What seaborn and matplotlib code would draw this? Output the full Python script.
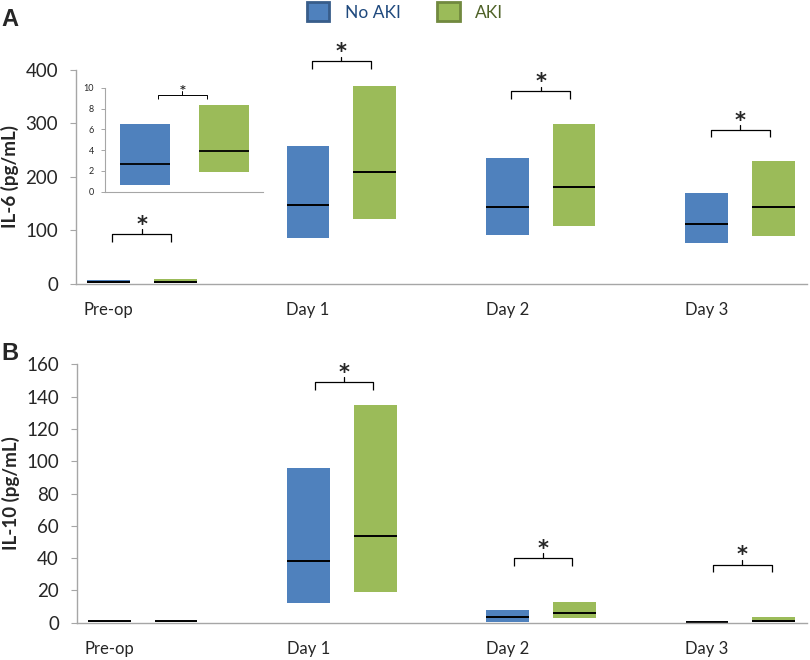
import matplotlib
matplotlib.use("Agg")
import matplotlib.pyplot as plt
from matplotlib.patches import Patch
import numpy as np
import seaborn as sns

# ---------------------------------------------------------------------------
# Data: interquartile boxes with medians
# ---------------------------------------------------------------------------
days = ["Pre-op", "Day 1", "Day 2", "Day 3"]
groups = ["No AKI", "AKI"]

# IL-6 (pg/mL)
il6_no_aki_q1 = [0.6, 86, 92, 76]
il6_no_aki_med = [2.7, 147, 144, 112]
il6_no_aki_q3 = [6.5, 258, 235, 170]
il6_aki_q1 = [1.9, 122, 108, 89]
il6_aki_med = [3.9, 210, 181, 144]
il6_aki_q3 = [8.3, 370, 299, 230]
il6_sig_level = [93, 416, 360, 288]

# IL-10 (pg/mL)
il10_no_aki_q1 = [0.4, 12, 0.6, 0.3]
il10_no_aki_med = [0.8, 38, 3.7, 0.7]
il10_no_aki_q3 = [1.2, 96, 7.9, 1.0]
il10_aki_q1 = [0.4, 19, 2.7, 0.6]
il10_aki_med = [0.8, 54, 5.8, 0.8]
il10_aki_q3 = [1.2, 135, 12.8, 3.7]
il10_sig_level = [None, 149, 40, 36]

# inset: pre-op IL-6 zoomed
inset_sig_level = 9.3

colors = ["#4f81bd", "#9bbb59"]
edge_colors = ["#385d8a", "#71893f"]
text_colors = ["#1f497d", "#4f6228"]

sns.set_style("white")
plt.rcParams["font.family"] = ["Lato", "DejaVu Sans"]

BAR_W = 0.215
OFFSET = 0.167
SPINE = "#a6a6a6"


def style_axis(ax, ymax, ystep, ylabel):
    x = np.arange(len(days))
    ax.set_xlim(-0.33, 3.335)
    ax.set_ylim(0, ymax)
    ax.set_yticks(np.arange(0, ymax + 1, ystep))
    ax.set_xticks(x - OFFSET)
    ax.set_xticklabels(days)
    ax.tick_params(axis="x", length=0, pad=13, labelsize=12)
    ax.tick_params(axis="y", length=4, width=0.8, color=SPINE, pad=9,
                   labelsize=13.5, left=True)
    for side in ["top", "right"]:
        ax.spines[side].set_visible(False)
    for side in ["left", "bottom"]:
        ax.spines[side].set_color(SPINE)
        ax.spines[side].set_linewidth(1.0)
    ax.set_ylabel(ylabel, fontsize=13.5, fontweight="bold")
    ax.yaxis.set_label_coords(-0.078, 0.5)


def draw_boxes(ax, x, q1s, meds, q3s, color, lw=1.4, width=BAR_W):
    q1s = np.array(q1s, dtype=float)
    q3s = np.array(q3s, dtype=float)
    ax.bar(x, q3s - q1s, bottom=q1s, width=width, color=color, linewidth=0)
    ax.hlines(meds, x - width / 2, x + width / 2, color="black", lw=lw)


def sig_bracket(ax, xc, half, top, drop, rise, fs=15, lw=0.9, star_off=-4):
    ax.plot([xc - half, xc - half, xc + half, xc + half],
            [top - drop, top, top, top - drop], color="black", lw=lw,
            solid_capstyle="butt", clip_on=False)
    ax.plot([xc, xc], [top, top + rise], color="black", lw=lw, clip_on=False)
    ax.annotate("*", (xc, top + rise), xytext=(0, star_off),
                textcoords="offset points", ha="center", va="bottom",
                fontsize=fs, fontweight="bold", family="DejaVu Sans",
                annotation_clip=False)


fig = plt.figure(figsize=(8.1, 6.6), dpi=100)
ax_a = fig.add_axes([0.0938, 0.570, 0.9025, 0.324])
ax_b = fig.add_axes([0.0950, 0.0565, 0.9013, 0.3915])

x = np.arange(len(days))

# Panel A: IL-6
draw_boxes(ax_a, x - OFFSET, il6_no_aki_q1, il6_no_aki_med, il6_no_aki_q3, colors[0])
draw_boxes(ax_a, x + OFFSET, il6_aki_q1, il6_aki_med, il6_aki_q3, colors[1])
style_axis(ax_a, 400, 100, "IL-6 (pg/mL)")
for xi, lev in zip(x, il6_sig_level):
    if lev is not None:
        sig_bracket(ax_a, xi, 0.147, lev, 14, 9)

# Panel B: IL-10
draw_boxes(ax_b, x - OFFSET, il10_no_aki_q1, il10_no_aki_med, il10_no_aki_q3, colors[0])
draw_boxes(ax_b, x + OFFSET, il10_aki_q1, il10_aki_med, il10_aki_q3, colors[1])
style_axis(ax_b, 160, 20, "IL-10 (pg/mL)")
for xi, lev in zip(x, il10_sig_level):
    if lev is not None:
        sig_bracket(ax_b, xi + 0.01, 0.147, lev, 4.6, 3.0)

# Inset with pre-op IL-6
ax_in = fig.add_axes([0.1296, 0.7096, 0.1951, 0.1574])
xi = np.arange(2)
draw_boxes(ax_in, xi[:1], il6_no_aki_q1[:1], il6_no_aki_med[:1], il6_no_aki_q3[:1],
           colors[0], lw=1.3, width=0.63)
draw_boxes(ax_in, xi[1:], il6_aki_q1[:1], il6_aki_med[:1], il6_aki_q3[:1],
           colors[1], lw=1.3, width=0.63)
ax_in.set_xlim(-0.506, 1.494)
ax_in.set_ylim(0, 10)
ax_in.set_yticks(np.arange(0, 11, 2))
ax_in.set_xticks([])
ax_in.tick_params(axis="y", length=3, width=0.7, color=SPINE, pad=5,
                  labelsize=6.5, left=True)
ax_in.patch.set_alpha(0)
for side in ["top", "right"]:
    ax_in.spines[side].set_visible(False)
for side in ["left", "bottom"]:
    ax_in.spines[side].set_color(SPINE)
    ax_in.spines[side].set_linewidth(0.8)
sig_bracket(ax_in, 0.475, 0.31, inset_sig_level, 0.4, 0.35, fs=8, lw=0.7,
            star_off=-2.5)

# Panel letters
fig.text(0.002, 0.988, "A", fontsize=17, fontweight="bold", va="top",
         family="Liberation Sans")
fig.text(0.002, 0.482, "B", fontsize=17, fontweight="bold", va="top",
         family="Liberation Sans")

# Legend
handles = [Patch(facecolor=c, edgecolor=e, linewidth=2) for c, e in zip(colors, edge_colors)]
leg = fig.legend(handles, groups, loc="center", bbox_to_anchor=(0.5, 0.982),
                 ncol=2, frameon=False, fontsize=12.5, handlelength=1.3,
                 handleheight=1.3, handletextpad=0.9, columnspacing=2.1)
for t, c in zip(leg.get_texts(), text_colors):
    t.set_color(c)

fig.savefig("out.png", dpi=100)
